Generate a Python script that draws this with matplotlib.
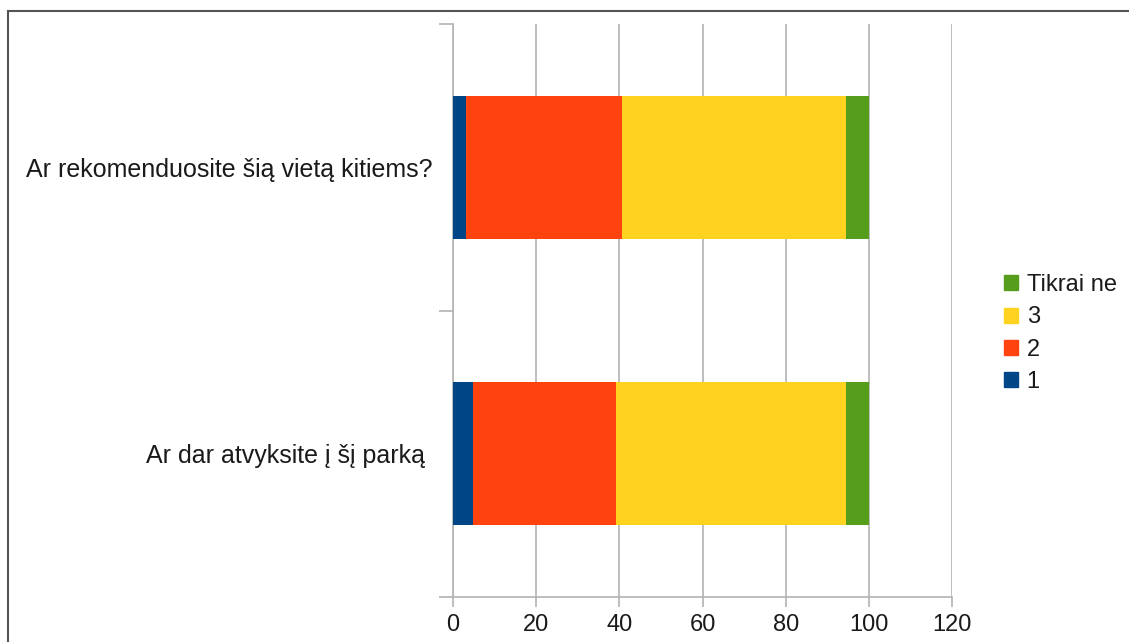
import matplotlib.pyplot as plt
from matplotlib.lines import Line2D
from matplotlib.patches import Patch

plt.rcParams["font.family"] = ["Liberation Sans", "DejaVu Sans"]

# data, bottom category first
questions = ["Ar dar atvyksite į šį parką ", "Ar rekomenduosite šią vietą kitiems?"]
series_names = ["1", "2", "3", "Tikrai ne"]
v1 = [4.9, 3.2]
v2 = [34.2, 37.4]
v3 = [55.3, 53.8]
v_ne = [5.6, 5.6]
xticks = [0, 20, 40, 60, 80, 100, 120]

colors = ["#004586", "#ff420e", "#ffd320", "#579d1c"]
grid_c = "#b3b3b3"
text_c = "#1a1a1a"

fig = plt.figure(figsize=(11.29, 6.42), dpi=100)
ax = fig.add_axes([453 / 1129, 1 - 597 / 642, (952 - 453) / 1129, (597 - 24) / 642])

ypos = list(range(len(questions)))
left = [0.0] * len(questions)
for name, vals, c in zip(series_names, [v1, v2, v3, v_ne], colors):
    ax.barh(ypos, vals, left=left, height=0.5, color=c, label=name, zorder=3)
    left = [a + b for a, b in zip(left, vals)]

ax.set_xlim(0, 120)
ax.set_ylim(-0.5, len(questions) - 0.5)
ax.set_xticks(xticks)
ax.set_xticklabels([str(t) for t in xticks], fontsize=17, color=text_c)
ax.xaxis.grid(True, color=grid_c, linewidth=1.2, zorder=0)

# category separators as major ticks, labels as minor
ax.set_yticks([-0.5, 0.5, 1.5])
ax.set_yticklabels([])
ax.set_yticks(ypos, minor=True)
ax.set_yticklabels(questions, minor=True, fontsize=18, color=text_c)
ax.tick_params(axis="y", which="minor", length=0, pad=15)
ax.tick_params(axis="y", which="major", length=10, color=grid_c, width=1.2)
ax.tick_params(axis="x", length=7, color=grid_c, width=1.2, pad=5)

for s in ["top", "right"]:
    ax.spines[s].set_visible(False)
for s in ["left", "bottom"]:
    ax.spines[s].set_color(grid_c)
    ax.spines[s].set_linewidth(1.2)

handles = [Patch(color=c) for c in colors][::-1]
fig.legend(handles, series_names[::-1], loc="upper left",
           bbox_to_anchor=(983 / 1129, 1 - 253 / 642), frameon=False,
           fontsize=17, handlelength=0.6, handleheight=0.6, handletextpad=0.35,
           labelspacing=0.43, labelcolor=text_c)

# outer frame (top and left edges visible)
fig.add_artist(Line2D([8 / 1129, 8 / 1129], [0, 1 - 11 / 642], transform=fig.transFigure,
                      color="#555555", linewidth=1.5))
fig.add_artist(Line2D([8 / 1129, 1], [1 - 11 / 642, 1 - 11 / 642], transform=fig.transFigure,
                      color="#555555", linewidth=1.5))

fig.savefig("out.png", dpi=100)
